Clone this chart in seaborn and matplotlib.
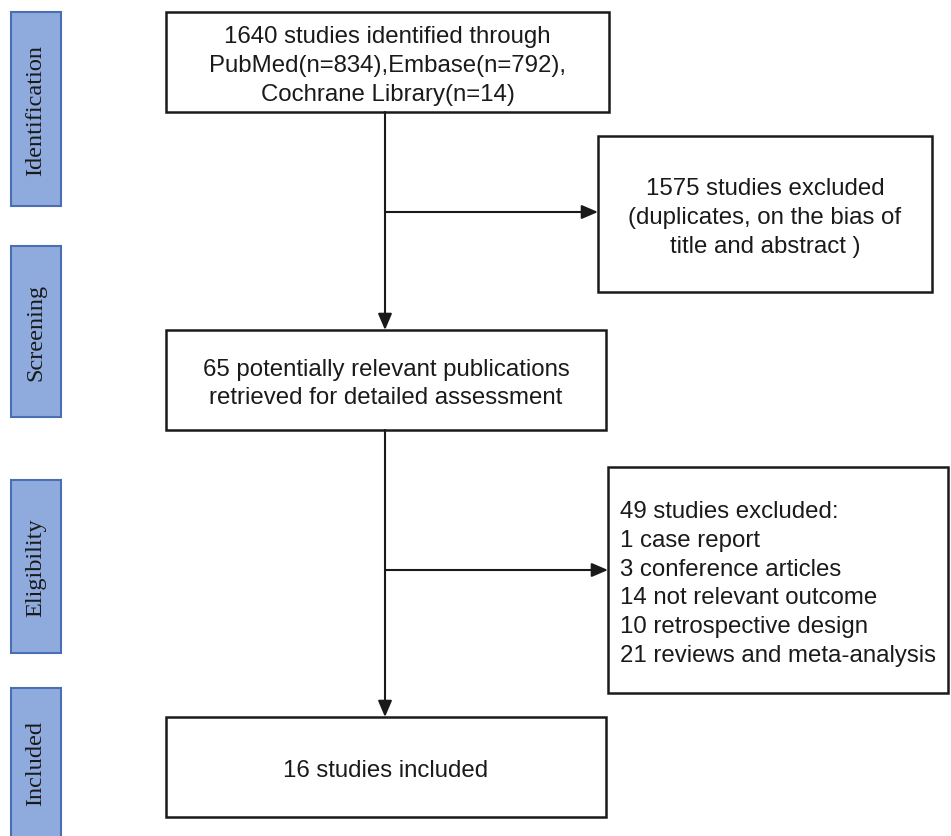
import matplotlib
matplotlib.use("Agg")
import matplotlib.pyplot as plt
from matplotlib.patches import Rectangle
import seaborn as sns

# ステージ名と各ボックスの文言
stages = ["Identification", "Screening", "Eligibility", "Included"]
main_texts = [
    "1640 studies identified through\nPubMed(n=834),Embase(n=792),\nCochrane Library(n=14)",
    "65 potentially relevant publications\nretrieved for detailed assessment",
    "16 studies included",
]
excluded_texts = [
    "1575 studies excluded\n(duplicates, on the bias of\ntitle and abstract )",
    "49 studies excluded:\n1 case report\n3 conference articles\n14 not relevant outcome\n10 retrospective design\n21 reviews and meta-analysis",
]

sns.set_theme(style="white")
plt.rcParams["font.family"] = ["Liberation Sans", "DejaVu Sans"]

W, H = 951, 837
FS = 17.3
LS = 1.4
DY = 3  # 文字のわずかな下方向オフセット
fig = plt.figure(figsize=(W / 100, H / 100), dpi=100)
ax = fig.add_axes([0, 0, 1, 1])
ax.set_xlim(0, W)
ax.set_ylim(H, 0)
ax.axis("off")

# 左側のステージラベル (x0, y0, x1, y1)
stage_boxes = [(11, 13, 61, 207), (11, 247, 61, 418), (11, 481, 61, 654), (11, 689, 61, 845)]
for name, (x0, y0, x1, y1) in zip(stages, stage_boxes):
    ax.add_patch(Rectangle((x0, y0), x1 - x0, y1 - y0, facecolor="#8faadc",
                           edgecolor="#4a6fb5", linewidth=1.5, clip_on=False))
    ax.text((x0 + x1) / 2, min((y0 + y1) / 2, 763), name, rotation=90, ha="center", va="center",
            fontsize=17.5, family=["Liberation Serif", "DejaVu Serif"], color="#1a1a1a")

# 中央のボックス
main_boxes = [(166, 13, 609, 113), (166, 331, 606, 431), (166, 718, 606, 818)]
for txt, (x0, y0, x1, y1) in zip(main_texts, main_boxes):
    ax.add_patch(Rectangle((x0, y0), x1 - x0, y1 - y0, facecolor="white",
                           edgecolor="#1a1a1a", linewidth=1.8))
    ax.text((x0 + x1) / 2, (y0 + y1) / 2 + DY, txt, ha="center", va="center",
            fontsize=FS, linespacing=LS, color="#1a1a1a")

# 除外ボックス
exc_boxes = [(598, 137, 932, 293), (608, 468, 948, 694)]
for i, (txt, (x0, y0, x1, y1)) in enumerate(zip(excluded_texts, exc_boxes)):
    ax.add_patch(Rectangle((x0, y0), x1 - x0, y1 - y0, facecolor="white",
                           edgecolor="#1a1a1a", linewidth=1.8))
    if i == 0:
        ax.text((x0 + x1) / 2, (y0 + y1) / 2 + DY, txt, ha="center", va="center",
                fontsize=FS, linespacing=LS, color="#1a1a1a")
    else:
        ax.text(x0 + 12, (y0 + y1) / 2 + DY, txt, ha="left", va="center",
                fontsize=FS, linespacing=LS, color="#1a1a1a")

# 矢印
arrow = dict(arrowstyle="-|>,head_length=0.7,head_width=0.3", color="#1a1a1a", lw=1.5,
             mutation_scale=14, shrinkA=0, shrinkB=0)
ax.annotate("", xy=(385, 331), xytext=(385, 113), arrowprops=arrow)
ax.annotate("", xy=(598, 213), xytext=(385, 213), arrowprops=arrow)
ax.annotate("", xy=(385, 718), xytext=(385, 431), arrowprops=arrow)
ax.annotate("", xy=(608, 571), xytext=(385, 571), arrowprops=arrow)

fig.savefig("out.png", dpi=100)
